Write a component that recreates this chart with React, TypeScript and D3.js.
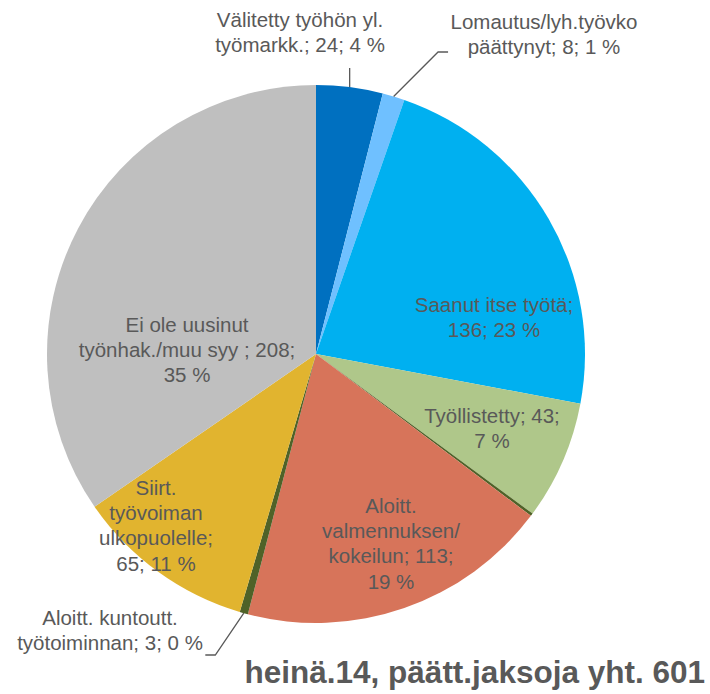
import * as d3 from 'd3';

const categories = [
  'Välitetty työhön yl. työmarkk.',
  'Lomautus/lyh.työvko päättynyt',
  'Saanut itse työtä',
  'Työllistetty',
  'Muu',
  'Aloitt. valmennuksen/ kokeilun',
  'Aloitt. kuntoutt. työtoiminnan',
  'Siirt. työvoiman ulkopuolelle',
  'Ei ole uusinut työnhak./muu syy',
];
const values = [24, 8, 136, 43, 1, 113, 3, 65, 208];
const labelLines = [
  ['Välitetty työhön yl.', 'työmarkk.; 24; 4 %'],
  ['Lomautus/lyh.työvko', 'päättynyt; 8; 1 %'],
  ['Saanut itse työtä;', '136; 23 %'],
  ['Työllistetty; 43;', '7 %'],
  [],
  ['Aloitt.', 'valmennuksen/', 'kokeilun; 113;', '19 %'],
  ['Aloitt. kuntoutt.', 'työtoiminnan; 3; 0 %'],
  ['Siirt.', 'työvoiman', 'ulkopuolelle;', '65; 11 %'],
  ['Ei ole uusinut', 'työnhak./muu syy ; 208;', '35 %'],
];
const title = 'heinä.14, päätt.jaksoja yht. 601';

const colors = ['#0070c0', '#6fc0ff', '#00b0f0', '#afc78a', '#4f6228', '#d7745a', '#4f6228', '#e1b42f', '#bfbfbf'];

// label anchor (center of first line) relative to pie center, and leader line kind
const labelLayout = [
  { x: -16, y: -334, leader: 'up' },
  { x: 228, y: -332, leader: 'elbow' },
  { x: 178, y: -49, leader: '' },
  { x: 176, y: 62, leader: '' },
  { x: 0, y: 0, leader: '' },
  { x: 75, y: 152, leader: '' },
  { x: -206, y: 264, leader: 'elbowLeft' },
  { x: -160, y: 134, leader: '' },
  { x: -129, y: -29, leader: '' },
];

export default function App() {
  const width = 710;
  const height = 694;
  const cx = 316;
  const cy = 354;
  const r = 269;
  const lineH = 25.2;

  const pie = d3.pie<number>().sort(null).value(d => d);
  const arcs = pie(values);
  const arc = d3.arc<d3.PieArcDatum<number>>().innerRadius(0).outerRadius(r);

  const edgePoint = (a: d3.PieArcDatum<number>, rr: number) => {
    const m = (a.startAngle + a.endAngle) / 2;
    return [rr * Math.sin(m), -rr * Math.cos(m)];
  };

  return (
    <svg width={width} height={height} style={{ position: 'absolute', left: 0, top: 0 }}
      fontFamily="'Liberation Sans', Arial, sans-serif">
      <g transform={`translate(${cx},${cy})`}>
        {arcs.map((a, i) => (
          <path key={categories[i]} d={arc(a) ?? ''} fill={colors[i]} />
        ))}
        {arcs.map((a, i) => {
          const lay = labelLayout[i];
          const [px, py] = edgePoint(a, r);
          if (lay.leader === 'up') {
            return <line key={'l' + i} x1={px} y1={py} x2={px} y2={py - 19} stroke="#595959" strokeWidth={1.3} />;
          }
          if (lay.leader === 'elbow') {
            const y2 = -302;
            const x2 = px + (py - y2);
            return <polyline key={'l' + i} points={`${px},${py} ${x2},${y2} ${x2 + 10},${y2}`} fill="none" stroke="#595959" strokeWidth={1.3} />;
          }
          if (lay.leader === 'elbowLeft') {
            const y2 = 301;
            const x2 = px - (y2 - py) * 0.68;
            return <polyline key={'l' + i} points={`${px},${py} ${x2},${y2} ${x2 - 10},${y2}`} fill="none" stroke="#595959" strokeWidth={1.3} />;
          }
          return null;
        })}
        {labelLines.map((lines, i) => (
          <text key={'t' + i} fill="#595959" fontSize={20.5} textAnchor="middle">
            {lines.map((ln, j) => (
              <tspan key={j} x={labelLayout[i].x} y={labelLayout[i].y + j * lineH + 7}>{ln}</tspan>
            ))}
          </text>
        ))}
      </g>
      <text x={705} y={683} textAnchor="end" fontSize={31.5} fontWeight="bold" fill="#595959">{title}</text>
    </svg>
  );
}
